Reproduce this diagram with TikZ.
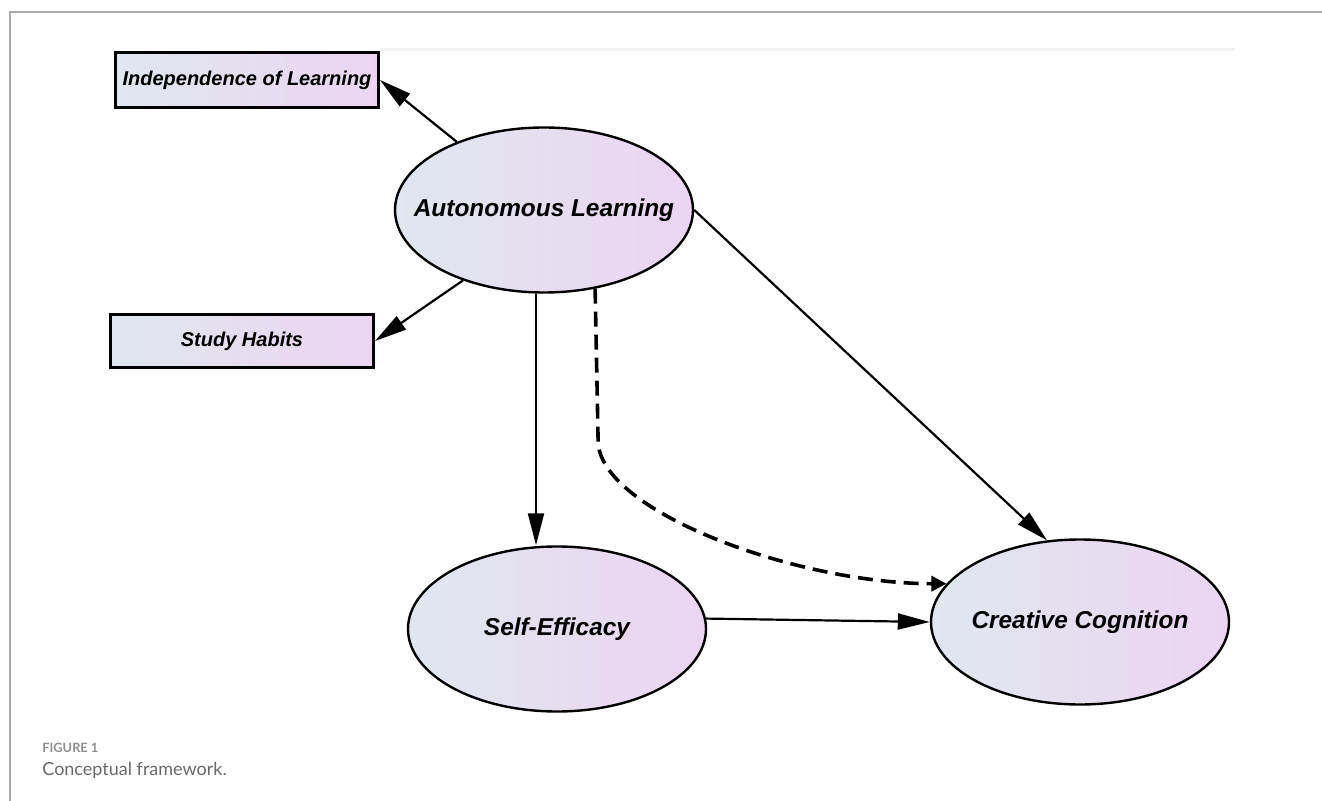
\documentclass[tikz,border=0pt]{standalone}
\usepackage{fontspec}
\setmainfont{Liberation Sans}
\newfontfamily\capfont{Lato}
\usetikzlibrary{arrows.meta,shapes.geometric}
\definecolor{shadeL}{RGB}{224,231,238}
\definecolor{shadeR}{RGB}{236,213,243}
\definecolor{rulegray}{RGB}{170,170,170}
\definecolor{capgray}{RGB}{105,105,105}

\begin{document}
\begin{tikzpicture}[
	x=0.5pt, y=-0.5pt,
	construct/.style={ellipse, draw=black, line width=1.2pt, left color=shadeL, right color=shadeR, minimum width=149pt, minimum height=82.5pt, inner xsep=-20pt, inner ysep=0pt, font=\fontsize{12.2}{14}\selectfont\bfseries\itshape},
	indicator/.style={rectangle, draw=black, line width=1.5pt, left color=shadeL, right color=shadeR, minimum width=131.5pt, minimum height=27.5pt, inner sep=2pt, font=\fontsize{10}{12}\selectfont\bfseries\itshape},
	arrow/.style={-{Triangle[length=16pt,width=8pt]}, line width=1.1pt},
	mediation/.style={-{Triangle[length=7.5pt,width=7.5pt]}, line width=1.8pt, dash pattern=on 7.5pt off 4pt}
]
\useasboundingbox (0,0) rectangle (1322,801);
\draw [rulegray, line width=0.8pt] (10,801) -- (10,12) -- (1322,12);
\draw [black!5, line width=1.5pt] (380,50) -- (1235,50);

\node (auto) [construct] at (544,210) {Autonomous Learning};
\node (self) [construct] at (557,629) {Self-Efficacy};
\node (creative) [construct] at (1080,622) {Creative Cognition};
\node (indep) [indicator] at (247,80) {Independence of Learning};
\node (habits) [indicator, minimum height=26.5pt] at (242,341) {Study Habits};

\draw [arrow] (auto.142) -- (indep.east);
\draw [arrow] (auto.221) -- (habits.east);
\draw [arrow] ([xshift=-4pt]auto.south) -- ([xshift=-10.5pt]self.north);
\draw [arrow] (auto.east) -- (creative.112);
\draw [mediation] (auto.-57) -- ++(3,152) .. controls +(0,70) and +(-150,0) .. (creative.164);
\draw [arrow] (self.4) -- (creative.west);

\node (figno) [anchor=base west, inner sep=0pt, text=capgray!75, font=\capfont\bfseries\fontsize{6.4}{7}\selectfont] at (42,752) {FIGURE 1};
\node (caption) [anchor=base west, inner sep=0pt, text=capgray, font=\capfont\fontsize{9}{10}\selectfont] at (42,775) {Conceptual framework.};
\end{tikzpicture}
\end{document}
